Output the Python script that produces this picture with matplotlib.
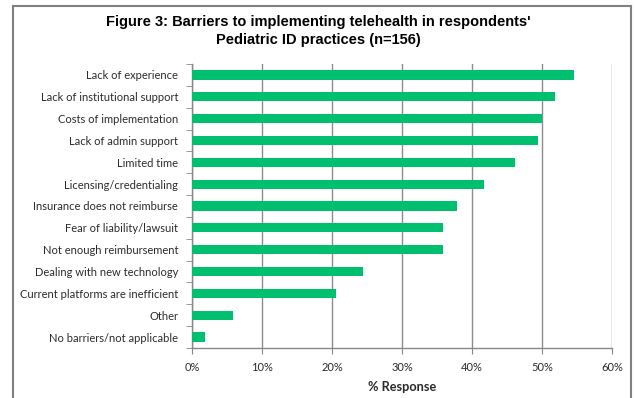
import matplotlib.pyplot as plt
from matplotlib.lines import Line2D
from matplotlib.ticker import PercentFormatter, FixedLocator

barriers = [
    "Lack of experience",
    "Lack of institutional support",
    "Costs of implementation",
    "Lack of admin support",
    "Limited time",
    "Licensing/credentialing",
    "Insurance does not reimburse",
    "Fear of liability/lawsuit",
    "Not enough reimbursement",
    "Dealing with new technology",
    "Current platforms are inefficient",
    "Other",
    "No barriers/not applicable",
]
pct_response = [54.5, 51.9, 50.0, 49.4, 46.2, 41.7, 37.8, 35.9, 35.9, 24.4, 20.5, 5.8, 1.9]

W, H = 636, 398
fig = plt.figure(figsize=(W / 100, H / 100), dpi=100)
ax = fig.add_axes([192 / W, 1 - 348 / H, 420 / W, 284 / H])

n = len(barriers)
ypos = list(range(n))[::-1]
ax.barh(ypos, pct_response, height=0.42, color="#00bf6f", zorder=3)

ax.set_xlim(0, 60)
ax.set_ylim(-0.5, n - 0.5)
ax.set_xticks(range(0, 61, 10))
ax.xaxis.set_major_formatter(PercentFormatter(decimals=0))
ax.set_yticks(ypos)
ax.set_yticklabels(barriers)
# tick marks sit between categories, labels on the categories
ax.yaxis.set_minor_locator(FixedLocator([i - 0.5 for i in range(n + 1)]))
ax.tick_params(axis="y", which="major", length=0, pad=10)
ax.tick_params(axis="y", which="minor", length=4, color="#888888")
ax.tick_params(axis="x", length=4, color="#888888", pad=6)
for lbl in ax.get_xticklabels() + ax.get_yticklabels():
    lbl.set_fontfamily("Lato")
    lbl.set_fontsize(8)
    lbl.set_color("#2b2b2b")

ax.grid(axis="x", color="#8c8c8c", linewidth=1.0, zorder=0)
for side in ("top", "right"):
    ax.spines[side].set_visible(False)
for side in ("left", "bottom"):
    ax.spines[side].set_color("#888888")
    ax.spines[side].set_linewidth(1.0)

ax.set_xlabel("% Response", fontfamily="Lato", fontweight="bold", fontsize=9.2,
              color="#2b2b2b", labelpad=6)

fig.text(0.5, 1 - 22 / H, "Figure 3: Barriers to implementing telehealth in respondents'",
         ha="center", va="center", fontfamily="Liberation Sans", fontweight="bold", fontsize=10.5)
fig.text(0.5, 1 - 40 / H, "Pediatric ID practices (n=156)",
         ha="center", va="center", fontfamily="Liberation Sans", fontweight="bold", fontsize=10.5)

# outer frame (open at the bottom)
fx0, fx1, fy = 13 / W, 631 / W, 1 - 6 / H
for xs, ys in (([fx0, fx0], [0, fy]), ([fx0, fx1], [fy, fy]), ([fx1, fx1], [fy, 0])):
    fig.add_artist(Line2D(xs, ys, transform=fig.transFigure, color="#808080", linewidth=1.5))

fig.savefig("out.png", dpi=100)
